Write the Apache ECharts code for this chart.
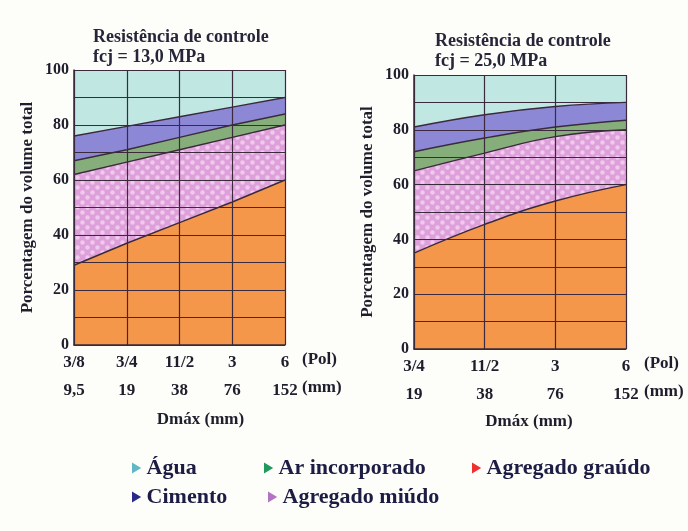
<!DOCTYPE html>
<html><head><meta charset="utf-8">
<script src="https://cdn.jsdelivr.net/npm/echarts@6/dist/echarts.min.js"></script>
<style>html,body{margin:0;padding:0;background:#fdfdf9;}#c{width:688px;height:531px;}</style>
</head><body><div id="c"></div>
<script>
// ---- data ----
const polL = ['3/8','3/4','11/2','3','6'];
const mmL  = ['9,5','19','38','76','152'];
const aguaL    = [100,100,100,100,100];
const cimentoL = [76,79.5,83,86.5,90];
const arL      = [67,71,75.5,80,84];
const miudoL   = [62,66.5,71,75.5,80];
const graudoL  = [29,37,44.5,52,60];

const polR = ['3/4','11/2','3','6'];
const mmR  = ['19','38','76','152'];
const aguaR    = [100,100,100,100];
const cimentoR = [81,85.5,88.5,90];
const arR      = [72,77,81,83.5];
const miudoR   = [65,71.5,77.5,80];
const graudoR  = [35,45.5,54,60];

const yTicks = [0,20,40,60,80,100];

// ---- styles ----
const FONT = '"Liberation Serif","Times New Roman",serif';
const TXT = '#1e1e2c';
const GRIDC = '#3a2a3c';
const cols = {agua:'#c0e7e2', cimento:'#8c88d6', ar:'#86ae7a', graudo:'#f5974a'};
const legCols = {agua:'#5fb8c4', cimento:'#2a2a86', ar:'#1f9a5c', graudo:'#ee3030', miudo:'#b373c4'};

// dotted pink pattern
const pc = document.createElement('canvas');
pc.width = 10; pc.height = 10;
const g = pc.getContext('2d');
g.fillStyle = '#dea0da'; g.fillRect(0,0,10,10);
g.fillStyle = '#f1c8ee';
[[2.5,2.5],[7.5,7.5]].forEach(([x,y])=>{g.beginPath();g.arc(x,y,2.2,0,Math.PI*2);g.fill();});
const miudoFill = {image: pc, repeat: 'repeat'};

function xAxis(gi, pol, mm, gap, shift){
  return {
    type:'category', gridIndex:gi, data:pol, boundaryGap:false, z:5,
    axisLine:{show:true, lineStyle:{color:GRIDC, width:1.5}},
    axisTick:{show:false},
    splitLine:{show:true, lineStyle:{color:GRIDC, width:1.2}},
    axisLabel:{margin:4, interval:0,
      formatter:(v,i)=>'{a|'+v+'}\n{a|'+mm[i]+'}',
      rich:{a:{fontFamily:FONT, fontWeight:'bold', fontSize:17, color:TXT, lineHeight:28}}},
    name:'Dmáx (mm)', nameLocation:'middle', nameGap:gap,
    nameTextStyle:{fontFamily:FONT, fontWeight:'bold', fontSize:17, color:TXT, padding:[0,0,0,shift]}
  };
}
function yAxis(gi, margin){
  return {
    type:'value', gridIndex:gi, min:0, max:100, interval:10, z:5,
    axisLine:{show:true, lineStyle:{color:GRIDC, width:1.5}},
    axisTick:{show:false},
    splitLine:{show:true, lineStyle:{color:GRIDC, width:1.2}},
    axisLabel:{margin:margin, formatter:v=>yTicks.indexOf(v)>=0 ? String(v) : '',
      fontFamily:FONT, fontWeight:'bold', fontSize:16, color:TXT},
    name:'Porcentagem do volume total', nameLocation:'middle', nameGap:38,
    nameTextStyle:{fontFamily:FONT, fontWeight:'bold', fontSize:17, color:TXT}
  };
}
function mk(name, gi, data, fill, smooth, line){
  return {
    name, type:'line', xAxisIndex:gi, yAxisIndex:gi, data, smooth,
    showSymbol:false, silent:true,
    itemStyle:{color: typeof fill==='string'?fill:'#e0a4da'},
    lineStyle:{color: line?GRIDC:'transparent', width:1.4},
    areaStyle:{color:fill, opacity:1}
  };
}
function leg(name, color, left, top){
  return {
    left, top, selectedMode:false, icon:'path://M0,0L10,6L0,12Z',
    itemWidth:10, itemHeight:11, itemGap:8,
    lineStyle:{opacity:0},
    textStyle:{fontFamily:FONT, fontWeight:'bold', fontSize:22, color:'#1c1c44'},
    data:[{name, itemStyle:{color}}]
  };
}

const series = [];
[[0,aguaL,cimentoL,arL,miudoL,graudoL,false],[1,aguaR,cimentoR,arR,miudoR,graudoR,0.45]].forEach(([gi,a,c,r,m,gr,sm])=>{
  series.push(mk('Água',gi,a,cols.agua,sm,false));
  series.push(mk('Cimento',gi,c,cols.cimento,sm,true));
  series.push(mk('Ar incorporado',gi,r,cols.ar,sm,true));
  series.push(mk('Agregado miúdo',gi,m,miudoFill,sm,true));
  series.push(mk('Agregado graúdo',gi,gr,cols.graudo,sm,true));
});

const chart = echarts.init(document.getElementById('c'), null, {renderer:'canvas'});
chart.setOption({
  backgroundColor:'#fdfdf9',
  animation:false,
  title:[
    {text:'Resistência de controle\nfcj = 13,0 MPa', left:88, top:22,
     textStyle:{fontFamily:FONT, fontWeight:'bold', fontSize:18, color:'#26263a', lineHeight:20}},
    {text:'Resistência de controle\nfcj = 25,0 MPa', left:430, top:26,
     textStyle:{fontFamily:FONT, fontWeight:'bold', fontSize:18, color:'#26263a', lineHeight:20}}
  ],
  grid:[
    {left:74, top:70, width:211, height:275},
    {left:414, top:75, width:212, height:274}
  ],
  xAxis:[xAxis(0,polL,mmL,66,42), xAxis(1,polR,mmR,64,18)],
  yAxis:[yAxis(0,5), yAxis(1,5)],
  legend:[
    leg('Água', legCols.agua, 127, 452),
    leg('Ar incorporado', legCols.ar, 259, 452),
    leg('Agregado graúdo', legCols.graudo, 467, 452),
    leg('Cimento', legCols.cimento, 127, 481),
    leg('Agregado miúdo', legCols.miudo, 263, 481)
  ],
  graphic:[
    {type:'text', left:302, top:351, style:{text:'(Pol)', font:'bold 17px '+FONT, fill:TXT}},
    {type:'text', left:302, top:379, style:{text:'(mm)', font:'bold 17px '+FONT, fill:TXT}},
    {type:'text', left:644, top:355, style:{text:'(Pol)', font:'bold 17px '+FONT, fill:TXT}},
    {type:'text', left:644, top:383, style:{text:'(mm)', font:'bold 17px '+FONT, fill:TXT}}
  ],
  series
});
</script></body></html>
